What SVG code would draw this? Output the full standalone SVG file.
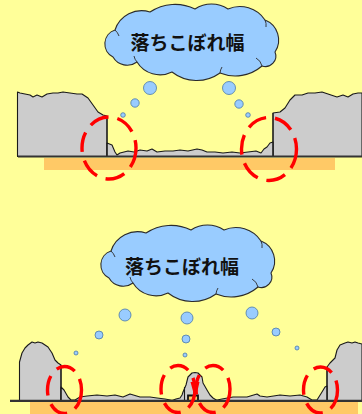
<svg xmlns="http://www.w3.org/2000/svg" xmlns:xlink="http://www.w3.org/1999/xlink" width="362" height="414" viewBox="0 0 362 414">
  <style>
    .bg { fill: #FFFF99; }
    .band { fill: #FFC966; }
    .rock { fill: #CCCCCC; stroke: #1a1a1a; stroke-width: 1.1; stroke-linejoin: round; }
    .ground { stroke: #333333; stroke-width: 2.2; fill: none; }
    .edge { stroke: #1a1a1a; stroke-width: 1.1; fill: none; }
    .drop { fill: #99CCFF; stroke: #4A78A8; stroke-width: 0.8; }
    .cloud { fill: #99CCFF; stroke: #2b2b2b; stroke-width: 1.1; stroke-linejoin: round; }
    .cloud-inner { fill: none; stroke: #2b2b2b; stroke-width: 0.9; }
    .label { font-family: "Noto Sans CJK JP", "Noto Sans", sans-serif; font-weight: bold; font-size: 19px; fill: #111111; text-anchor: middle; }
    .ring { fill: none; stroke: #FF0000; stroke-width: 3.4; stroke-dasharray: 20 9; }
  </style>
  <defs>
    <!-- cloud outline built from arcs, one per lobe -->
    <path id="cloud-shape" d="M113,57 A14.6,14.6 0 0 1 115,30 A28,28 0 0 1 150,12 A45,45 0 0 1 195,9 A30,30 0 0 1 228,9 A30,30 0 0 1 265,20 A21.5,21.5 0 0 1 275,52 A10.5,10.5 0 0 1 262,66 A41,41 0 0 1 220,73 A40,40 0 0 1 172,72 A27,27 0 0 1 137,62 A16.4,16.4 0 0 1 113,57 Z"/>
    <path id="cloud-lines" d="M115,30 A14,14 0 0 1 119,36 M137,62 A12,12 0 0 1 134,56 M220,73 A14,14 0 0 1 222,67 M262,66 A12,12 0 0 0 256,58 M265,20 A12,12 0 0 1 266,27"/>
  </defs>

  <rect class="bg" x="0" y="0" width="362" height="414"/>

  <!-- upper section: straight-walled channel -->
  <g id="upper-section">
    <rect class="band" x="44" y="158" width="291" height="12"/>
    <g id="upper-left-bank">
      <path class="rock" d="M17.5,156.5 L17.5,92 L20,93 L25,94 L30,95 L33,97 L37,95 L42,97 L47,94 L53,93 L58,93 L63,92 L70,93 L77,94 L82,94 L88,98 L93,105 L98,112 L103,115 L107,116 L107,156.5 Z"/>
    </g>
    <g id="upper-right-bank">
      <path class="rock" d="M273,156.5 L273,113 L280,112 L285,108 L290,100 L295,95 L302,95 L308,93 L315,93 L322,92 L328,94 L337,97 L343,95 L348,97 L353,94 L358,93 L362,93 L362,156.5 Z"/>
    </g>
    <g id="upper-debris">
      <path class="rock" d="M107,143 L112,145 L115,152 L117,155 L120,153 L128,151 L134,152 L140,150 L147,151 L152,149 L157,152 L165,151 L173,151 L180,150 L188,151 L197,149 L202,150 L207,152 L215,152 L223,153 L232,152 L240,153 L248,152 L256,151 L261,153 L264,149 L267,147 L270,143 L273,142 L273,156.5 L107,156.5 Z"/>
      <line class="edge" x1="107" y1="116" x2="107" y2="156"/>
      <line class="edge" x1="273" y1="113" x2="273" y2="156"/>
    </g>
    <line class="ground" x1="18" y1="156.5" x2="362" y2="156.5"/>
    <g id="upper-drops">
      <circle class="drop" cx="150" cy="88" r="6.5"/>
      <circle class="drop" cx="135" cy="103" r="4.2"/>
      <circle class="drop" cx="123" cy="115" r="2.3"/>
      <circle class="drop" cx="229" cy="88" r="6.5"/>
      <circle class="drop" cx="239" cy="104" r="4.2"/>
      <circle class="drop" cx="248" cy="115" r="2.3"/>
    </g>
    <g id="upper-cloud">
      <use xlink:href="#cloud-shape" class="cloud"/>
      <use xlink:href="#cloud-lines" class="cloud-inner"/>
      <text class="label" x="187.5" y="50">落ちこぼれ幅</text>
    </g>
    <g id="upper-rings">
      <ellipse class="ring" cx="109" cy="148" rx="27" ry="31"/>
      <ellipse class="ring" cx="269" cy="149" rx="27.5" ry="31.5"/>
    </g>
  </g>

  <!-- lower section: channel with central pier -->
  <g id="lower-section">
    <rect class="band" x="30" y="402" width="328" height="12"/>
    <g id="lower-left-pier">
      <path class="rock" d="M19.5,400.5 L19.5,362 L22,353 L25,348 L28,345 L32,342 L35,343 L38,342 L42,343 L45,345 L48,347 L52,353 L55,360 L58,363 L61,365 L61,400.5 Z"/>
    </g>
    <g id="lower-right-pier">
      <path class="rock" d="M327,400.5 L327,367 L330,363 L335,358 L337,350 L340,345 L345,343 L348,342 L352,343 L355,342 L358,343 L362,344 L362,400.5 Z"/>
    </g>
    <g id="lower-center-pier">
      <path class="rock" d="M172,400.5 L176,399 L180,398 L182,395 L183,392 L186,385 L188,377 L192,373 L195,372.5 L198,373 L202,377 L203,383 L207,390 L210,395 L213,398 L217,400.5 Z"/>
      <line class="edge" x1="184.5" y1="387" x2="184.5" y2="400"/>
      <path d="M188,400.5 L188,395.5 L198,395.5 L198,400.5" fill="#FFC966" stroke="#111111" stroke-width="1.8"/>
      <path d="M190.5,382 L194.5,382 L195.5,387 L196.5,382 L199.5,382 L197,393 L193.5,393 Z" fill="#FF0000"/>
    </g>
    <g id="lower-debris">
      <path class="rock" d="M61,387 L64,390 L68,397 L71,400 L75,400 L80,397 L87,396 L97,395 L107,396 L115,395 L123,397 L130,394 L140,397 L150,397 L157,398 L165,399 L173,400.5 L61,400.5 Z"/>
      <path class="rock" d="M215,400.5 L222,399 L233,397 L240,397 L247,397 L257,394 L260,396 L267,397 L280,395 L290,396 L300,395 L307,397 L312,400 L317,400 L322,392 L325,387 L327,386 L327,400.5 Z"/>
      <line class="edge" x1="61" y1="365" x2="61" y2="400"/>
      <line class="edge" x1="327" y1="367" x2="327" y2="400"/>
    </g>
    <line class="ground" x1="10" y1="400.8" x2="362" y2="400.8"/>
    <g id="lower-drops">
      <circle class="drop" cx="125" cy="315" r="6"/>
      <circle class="drop" cx="99" cy="335" r="4"/>
      <circle class="drop" cx="76" cy="353" r="2"/>
      <circle class="drop" cx="187" cy="318" r="6"/>
      <circle class="drop" cx="186" cy="339" r="4"/>
      <circle class="drop" cx="185" cy="355" r="2"/>
      <circle class="drop" cx="252" cy="313" r="6"/>
      <circle class="drop" cx="276" cy="332" r="4"/>
      <circle class="drop" cx="297" cy="348" r="2"/>
    </g>
    <g id="lower-cloud" transform="translate(-4,221)">
      <use xlink:href="#cloud-shape" class="cloud"/>
      <use xlink:href="#cloud-lines" class="cloud-inner"/>
      <text class="label" x="186" y="53">落ちこぼれ幅</text>
    </g>
    <g id="lower-rings">
      <ellipse class="ring" cx="64.5" cy="390" rx="17" ry="23.5"/>
      <ellipse class="ring" cx="178" cy="389" rx="17" ry="23.5"/>
      <ellipse class="ring" cx="213" cy="389" rx="17" ry="23.5"/>
      <ellipse class="ring" cx="320.5" cy="390" rx="17" ry="23"/>
    </g>
  </g>
</svg>
